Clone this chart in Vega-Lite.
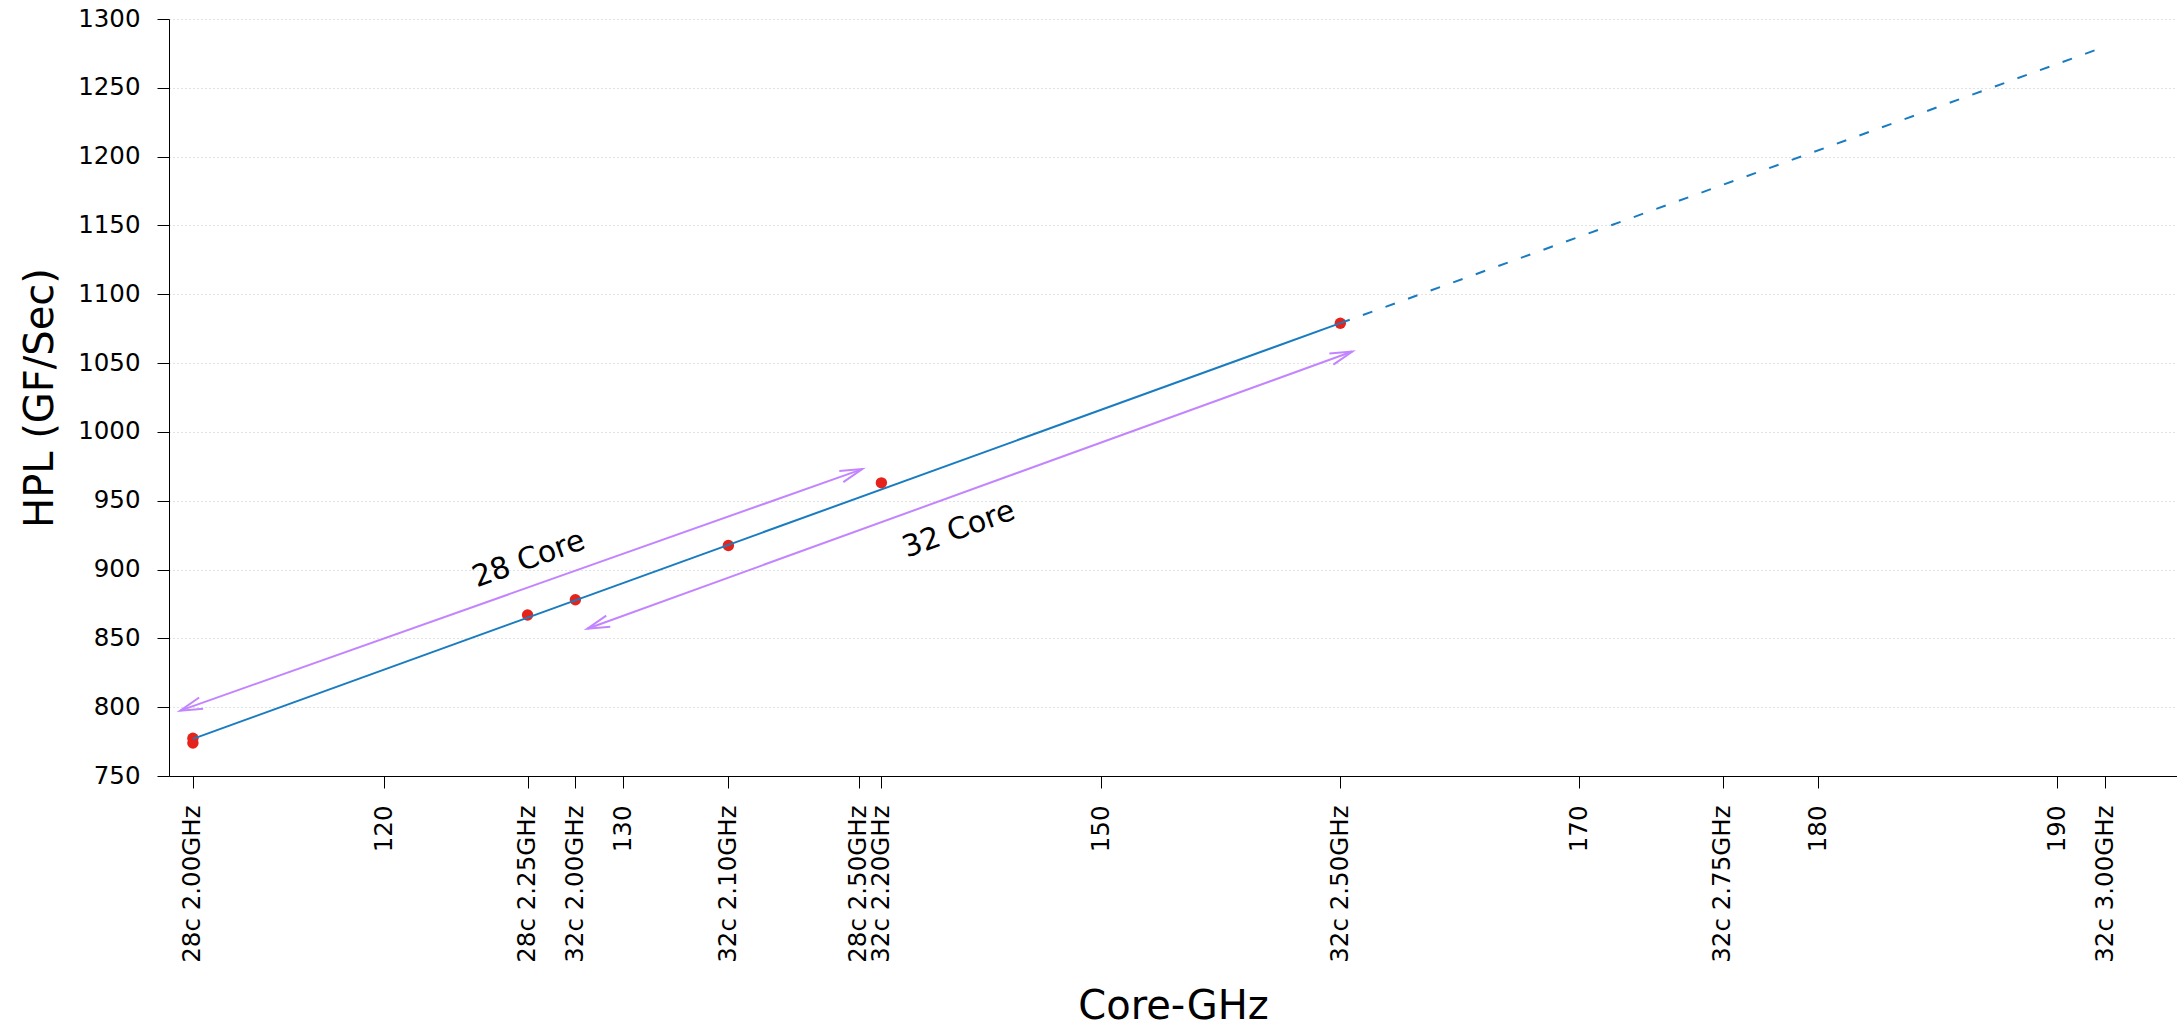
{
  "$schema": "https://vega.github.io/schema/vega-lite/v6.json",
  "autosize": {"type": "none"},
  "width": 2008,
  "height": 757,
  "padding": {"left": 169, "top": 19, "right": 0, "bottom": 250},
  "background": "white",
  "config": {
    "font": "DejaVu Sans",
    "view": {"stroke": null},
    "axis": {
      "domainColor": "#000000",
      "domainWidth": 1,
      "tickColor": "#000000",
      "tickWidth": 1,
      "tickSize": 12,
      "labelColor": "#000000",
      "labelFontSize": 24.5,
      "labelPadding": 17,
      "titleColor": "#000000",
      "titleFontSize": 40,
      "titleFontWeight": "normal"
    }
  },
  "datasets": {
    "measured": [
      {"ghz": 112, "hpl": 777.4},
      {"ghz": 112, "hpl": 774},
      {"ghz": 126, "hpl": 867},
      {"ghz": 128, "hpl": 878},
      {"ghz": 134.4, "hpl": 917.5},
      {"ghz": 140.8, "hpl": 963},
      {"ghz": 160, "hpl": 1079}
    ],
    "trend": [
      {"part": "fit", "ghz": 112, "hpl": 777},
      {"part": "fit", "ghz": 160, "hpl": 1079},
      {"part": "projection", "ghz": 160, "hpl": 1079},
      {"part": "projection", "ghz": 192, "hpl": 1280}
    ],
    "arrows": [
      {"arrow": "28 Core", "end": "tail", "ghz": 111.47, "hpl": 797.5},
      {"arrow": "28 Core", "end": "head", "ghz": 140, "hpl": 973},
      {"arrow": "32 Core", "end": "tail", "ghz": 128.5, "hpl": 857},
      {"arrow": "32 Core", "end": "head", "ghz": 160.5, "hpl": 1058.4}
    ],
    "notes": [
      {"text": "28 Core", "ghz": 126.05, "hpl": 907.4},
      {"text": "32 Core", "ghz": 144.04, "hpl": 929}
    ]
  },
  "encoding": {
    "x": {
      "field": "ghz",
      "type": "quantitative",
      "scale": {"domain": [111, 195], "nice": false, "zero": false},
      "axis": {
        "title": "Core-GHz",
        "values": [112, 120, 126, 128, 130, 134.4, 139.85, 140.8, 150, 160, 170, 176, 180, 190, 192],
        "labelExpr": "datum.value == 112 ? '28c 2.00GHz' : datum.value == 126 ? '28c 2.25GHz' : datum.value == 128 ? '32c 2.00GHz' : datum.value == 134.4 ? '32c 2.10GHz' : datum.value == 139.85 ? '28c 2.50GHz' : datum.value == 140.8 ? '32c 2.20GHz' : datum.value == 160 ? '32c 2.50GHz' : datum.value == 176 ? '32c 2.75GHz' : datum.value == 192 ? '32c 3.00GHz' : datum.label",
        "format": "d",
        "labelAngle": -90,
        "labelAlign": "right",
        "labelBaseline": "middle",
        "labelOverlap": false,
        "labelFlush": false,
        "labelBound": false,
        "grid": false,
        "titleY": 242,
        "titleBaseline": "alphabetic",
        "titleAlign": "center"
      }
    },
    "y": {
      "field": "hpl",
      "type": "quantitative",
      "scale": {"domain": [750, 1300], "nice": false, "zero": false},
      "axis": {
        "title": "HPL (GF/Sec)",
        "values": [750, 800, 850, 900, 950, 1000, 1050, 1100, 1150, 1200, 1250, 1300],
        "format": "d",
        "labelOverlap": false,
        "labelFlush": false,
        "grid": true,
        "gridColor": "#c4c4c4",
        "gridDash": [1, 3],
        "gridWidth": 1,
        "titleAngle": -90,
        "titleX": -117,
        "titleY": 378.5,
        "titleAlign": "center",
        "titleBaseline": "alphabetic"
      }
    }
  },
  "layer": [
    {
      "data": {"name": "arrows"},
      "mark": {"type": "line", "color": "#c285ff", "strokeWidth": 2},
      "encoding": {"detail": {"field": "arrow"}}
    },
    {
      "data": {"name": "arrows"},
      "transform": [{"filter": "datum.end == 'head'"}],
      "mark": {"type": "point", "shape": "M-0.966,-0.259L0,0L-0.966,0.259", "filled": false, "fill": null, "stroke": "#c285ff", "strokeWidth": 2, "size": 2116, "angle": 340.3, "opacity": 1},
      "encoding": {}
    },
    {
      "data": {"name": "arrows"},
      "transform": [{"filter": "datum.end == 'tail'"}],
      "mark": {"type": "point", "shape": "M-0.966,-0.259L0,0L-0.966,0.259", "filled": false, "fill": null, "stroke": "#c285ff", "strokeWidth": 2, "size": 2116, "angle": 160.3, "opacity": 1},
      "encoding": {}
    },
    {
      "data": {"name": "notes"},
      "mark": {"type": "text", "fontSize": 30, "angle": 340.3, "align": "center", "baseline": "middle", "color": "#000000"},
      "encoding": {"text": {"field": "text"}}
    },
    {
      "data": {"name": "measured"},
      "mark": {"type": "circle", "color": "#e5231b", "size": 130, "opacity": 1},
      "encoding": {}
    },
    {
      "data": {"name": "trend"},
      "transform": [{"filter": "datum.part == 'fit'"}],
      "mark": {"type": "line", "color": "#1a7cc0", "strokeWidth": 2},
      "encoding": {}
    },
    {
      "data": {"name": "trend"},
      "transform": [{"filter": "datum.part == 'projection'"}],
      "mark": {"type": "line", "color": "#1a7cc0", "strokeWidth": 2, "strokeDash": [10, 14]},
      "encoding": {}
    }
  ]
}
